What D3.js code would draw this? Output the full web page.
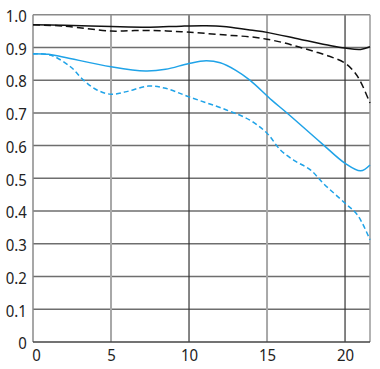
<!DOCTYPE html>
<html><head><meta charset="utf-8">
<script src="https://cdn.jsdelivr.net/npm/d3@7"></script>
<style>body{margin:0;background:#fff}svg{display:block}</style>
</head><body>
<script>
const xTicks = [0, 5, 10, 15, 20];
const yTicks = [0, 0.1, 0.2, 0.3, 0.4, 0.5, 0.6, 0.7, 0.8, 0.9, 1.0];
const yTickLabels = ["0", "0.1", "0.2", "0.3", "0.4", "0.5", "0.6", "0.7", "0.8", "0.9", "1.0"];

const blackSolidX = [0, 2, 5, 7.5, 9.5, 11, 12.2, 13.9, 15, 17.1, 19.1, 20, 21, 21.6];
const blackSolidY = [0.969, 0.968, 0.964, 0.962, 0.965, 0.966, 0.964, 0.953, 0.946, 0.925, 0.905, 0.898, 0.894, 0.902];

const blackDashX = [0, 2, 5, 6.2, 7.5, 9.5, 11, 12.6, 14, 15, 16, 17, 18, 19, 20, 20.6, 21, 21.6];
const blackDashY = [0.969, 0.965, 0.950, 0.951, 0.952, 0.948, 0.943, 0.937, 0.932, 0.925, 0.915, 0.902, 0.888, 0.873, 0.852, 0.825, 0.795, 0.730];

const blueSolidX = [0, 1, 2, 5, 7.2, 8.5, 10, 11.1, 12, 13, 13.9, 15.3, 16.3, 18.5, 20, 21, 21.6];
const blueSolidY = [0.881, 0.879, 0.870, 0.841, 0.828, 0.833, 0.851, 0.859, 0.853, 0.830, 0.800, 0.739, 0.699, 0.607, 0.546, 0.523, 0.541];

const blueDashX = [0, 1.1, 2.4, 3.24, 4.1, 5, 6, 7.4, 8.5, 10, 12.4, 13.9, 15, 15.85, 16.7, 17.8, 18.6, 20, 20.8, 21.6];
const blueDashY = [0.880, 0.877, 0.841, 0.800, 0.770, 0.757, 0.765, 0.782, 0.775, 0.749, 0.709, 0.678, 0.638, 0.587, 0.556, 0.525, 0.485, 0.424, 0.388, 0.312];

const W = 380, H = 369;
const m = {left: 33, top: 14.7, right: 10, bottom: 27};
const svg = d3.select("body").append("svg").attr("width", W).attr("height", H);
const x = d3.scaleLinear().domain([0, 21.6]).range([m.left, W - m.right]);
const y = d3.scaleLinear().domain([0, 1]).range([H - m.bottom, m.top]);
const FONT = "'Noto Sans', sans-serif";

const g = svg.append("g");
g.selectAll("line.h").data(yTicks.filter(t => t > 0 && t < 1)).join("line")
  .attr("x1", x(0)).attr("x2", x(21.6)).attr("y1", d => y(d)).attr("y2", d => y(d))
  .attr("stroke", "#6e6e6e").attr("stroke-width", 1.5);
g.selectAll("line.v").data(xTicks.filter(t => t > 0)).join("line")
  .attr("x1", d => x(d)).attr("x2", d => x(d)).attr("y1", y(0)).attr("y2", y(1))
  .attr("stroke", d => d % 10 === 0 ? "#333" : "#a8a8a8")
  .attr("stroke-width", d => d % 10 === 0 ? 1.2 : 2);
g.append("line").attr("x1", x(0)).attr("x2", x(21.6)).attr("y1", y(1)).attr("y2", y(1)).attr("stroke", "#8a8a8a").attr("stroke-width", 1.5);
g.append("line").attr("x1", x(21.6)).attr("x2", x(21.6)).attr("y1", y(0)).attr("y2", y(1)).attr("stroke", "#9a9a9a").attr("stroke-width", 1.5);
g.append("line").attr("x1", x(0)).attr("x2", x(0)).attr("y1", y(0)).attr("y2", y(1)).attr("stroke", "#8a8a8a").attr("stroke-width", 1.5);
g.append("line").attr("x1", x(0)).attr("x2", x(21.6)).attr("y1", y(0)).attr("y2", y(0)).attr("stroke", "#444").attr("stroke-width", 1.5);

const yAxis = d3.axisLeft(y).tickValues(yTicks).tickSize(0).tickPadding(7)
  .tickFormat((d, i) => yTickLabels[i]);
svg.append("g").attr("transform", `translate(${x(0)},0)`).call(yAxis)
  .call(s => s.select(".domain").remove())
  .selectAll("text").attr("font-family", FONT).attr("font-size", 17).attr("fill", "#222")
  .attr("dy", "0.4em").attr("transform", "scale(0.88,1)");
const xAxis = d3.axisBottom(x).tickValues(xTicks).tickSize(0).tickPadding(7).tickFormat(d3.format("d"));
svg.append("g").attr("transform", `translate(0,${y(0)})`).call(xAxis)
  .call(s => s.select(".domain").remove())
  .selectAll("text").attr("font-family", FONT).attr("font-size", 17).attr("fill", "#222")
  .attr("transform", d => d === 0 ? "translate(3,0) scale(0.88,1)" : "scale(0.88,1)");

const line = d3.line().x(d => x(d[0])).y(d => y(d[1])).curve(d3.curveCatmullRom.alpha(0.5));
const series = [
  {xs: blackSolidX, ys: blackSolidY, color: "#111", dash: null},
  {xs: blackDashX, ys: blackDashY, color: "#111", dash: "7,4"},
  {xs: blueSolidX, ys: blueSolidY, color: "#1fa3e8", dash: null},
  {xs: blueDashX, ys: blueDashY, color: "#1fa3e8", dash: "5,3"}
];
series.forEach(s => {
  svg.append("path").datum(s.xs.map((v, i) => [v, s.ys[i]]))
    .attr("d", line).attr("fill", "none").attr("stroke", s.color)
    .attr("stroke-width", 1.5).attr("stroke-dasharray", s.dash);
});
</script>
</body></html>
